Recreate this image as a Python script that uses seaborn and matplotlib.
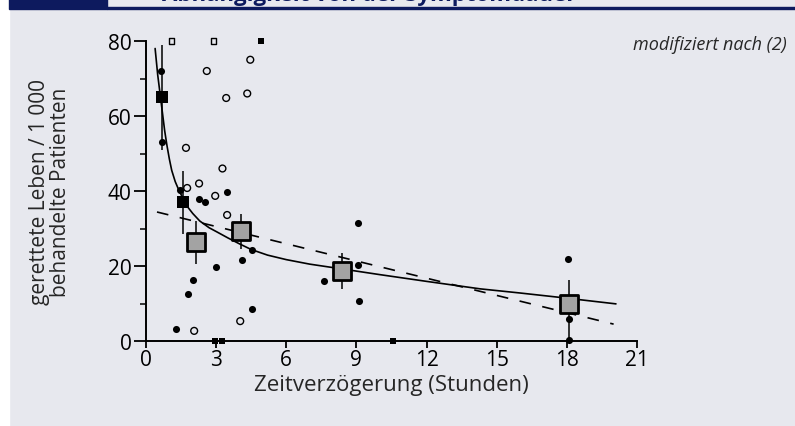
import matplotlib
matplotlib.use('Agg')
import matplotlib.pyplot as plt
import seaborn as sns
import pandas as pd
from matplotlib.patches import Rectangle

# single patients groups (filled / open circles)
filled_x = [0.64, 0.69, 1.46, 2.27, 2.53, 3.47, 3.0, 4.1, 4.54, 2.0, 1.8, 1.29, 4.54,
            9.05, 9.08, 7.6, 9.1, 18.05, 18.08, 18.08]
filled_y = [72, 53, 40.3, 38, 37, 39.7, 19.7, 21.6, 24.2, 16.3, 12.6, 3.2, 8.5,
            31.5, 20.2, 16, 10.6, 22, 6, 0.3]
open_x = [2.6, 4.46, 3.43, 4.33, 1.71, 3.27, 2.27, 1.76, 2.96, 3.47, 4.03, 2.06]
open_y = [72, 75, 64.8, 66, 51.5, 46, 42, 40.8, 38.7, 33.6, 5.3, 2.7]

# small squares (clipped at the axis limits)
sq_open_x = [1.1, 2.9]
sq_open_y = [80, 80]
sq_fill_x = [4.93, 2.95, 3.25, 10.55]
sq_fill_y = [80, 0, 0, 0]

# pooled groups with error bars
black_x = [0.68, 1.6]
black_y = [65, 37]
black_lo = [51, 28.5]
black_hi = [79, 45.3]
gray_x = [2.14, 4.07, 8.4, 18.1]
gray_y = [26.4, 29.3, 18.7, 9.9]
gray_lo = [20.5, 24.5, 13.9, 0]
gray_hi = [32, 34, 23.5, 16.3]

# fitted curves
curve_x = [0.39, 0.5, 0.6, 0.7, 0.8, 0.9, 1.0, 1.1, 1.25, 1.4, 1.6, 1.8, 2.0, 2.3, 2.7,
           3.0, 3.5, 4.0, 4.5, 5.2, 6.0, 7.0, 8.4, 10.0, 12.0, 14.3, 16.0, 17.6, 20.1]
curve_y = [78, 71, 66, 61, 56, 52, 48.5, 45.5, 42.5, 40.3, 37.8, 35.6, 34, 32, 30.2,
           29.2, 27.5, 25.9, 24.4, 22.9, 21.7, 20.5, 19.2, 17.7, 15.9, 13.9, 12.8, 11.7, 9.9]
dash_x = [0.47, 20.0]
dash_y = [34.4, 4.5]

xticks = [0, 3, 6, 9, 12, 15, 18, 21]
yticks = [0, 20, 40, 60, 80]

bg = '#e7e8ee'
navy = '#0d1a5e'

sns.set_theme(style='ticks')
plt.rcParams['font.family'] = ['Open Sans', 'DejaVu Sans']

fig = plt.figure(figsize=(7.95, 4.27), dpi=100, facecolor=bg)
ax = fig.add_axes([146 / 795, 85 / 427, 491 / 795, 300 / 427])
ax.set_facecolor(bg)

# header strip (title is cut off at the top edge in the source)
fig.patches.append(Rectangle((0, 0), 9 / 795, 1, transform=fig.transFigure, color='white', zorder=0))
fig.patches.append(Rectangle((9 / 795, 1 - 9.5 / 427), 98 / 795, 9.5 / 427, transform=fig.transFigure,
                             color=navy, zorder=5))
fig.patches.append(Rectangle((107 / 795, 1 - 10 / 427), 688 / 795, 2 / 427, transform=fig.transFigure,
                             color=navy, zorder=5))
fig.text(162 / 795, 1 - 1 / 427, 'Abhängigkeit von der Symptomdauer', color=navy,
         fontsize=16, fontweight='bold', va='baseline', ha='left', zorder=3)

# lines
sns.lineplot(x=curve_x, y=curve_y, ax=ax, color='black', lw=1.2, sort=False)
ax.plot(dash_x, dash_y, color='black', lw=1.2, dashes=(7, 7))

# error bars
ax.vlines(black_x, black_lo, black_hi, color='black', lw=1.1)
ax.vlines(gray_x, gray_lo, gray_hi, color='black', lw=1.1, clip_on=False)

sns.scatterplot(x=open_x, y=open_y, ax=ax, marker='o', s=24, facecolor='none',
                edgecolor='black', linewidth=1.0, zorder=4)
sns.scatterplot(x=filled_x, y=filled_y, ax=ax, marker='o', s=26, color='black',
                linewidth=0, zorder=4, clip_on=False)
sns.scatterplot(x=sq_open_x, y=sq_open_y, ax=ax, marker='s', s=14, facecolor='none',
                edgecolor='black', linewidth=1.0, zorder=4, clip_on=False)
sns.scatterplot(x=sq_fill_x, y=sq_fill_y, ax=ax, marker='s', s=18, color='black',
                linewidth=0, zorder=4, clip_on=False)
sns.scatterplot(x=black_x, y=black_y, ax=ax, marker='s', s=75, color='black',
                linewidth=0, zorder=5)
sns.scatterplot(x=gray_x, y=gray_y, ax=ax, marker='s', s=160, color='#a3a3a3',
                edgecolor='black', linewidth=2.0, zorder=5)

ax.set_xlim(0, 21)
ax.set_ylim(0, 80)
ax.set_xticks(xticks)
ax.set_yticks(yticks)
ax.set_yticks([10, 30, 50, 70], minor=True)
ax.tick_params(axis='both', labelsize=15, colors='black', width=1.3)
ax.tick_params(axis='y', which='major', length=8.5, pad=2)
ax.tick_params(axis='y', which='minor', length=4.5, width=1.3)
ax.tick_params(axis='x', length=5, pad=1)
for s in ['top', 'right']:
    ax.spines[s].set_visible(False)
for s in ['left', 'bottom']:
    ax.spines[s].set_linewidth(1.4)
    ax.spines[s].set_color('black')

ax.set_xlabel('Zeitverzögerung (Stunden)', fontsize=16, labelpad=3)
ax.set_ylabel('gerettete Leben / 1 000\nbehandelte Patienten', fontsize=15, labelpad=26,
              linespacing=1.0)
ax.text(787 / 795, 1 - 45 / 427, 'modifiziert nach (2)', transform=fig.transFigure,
        ha='right', va='center', fontsize=13, style='italic')

fig.savefig('out.png', dpi=100, facecolor=bg)
